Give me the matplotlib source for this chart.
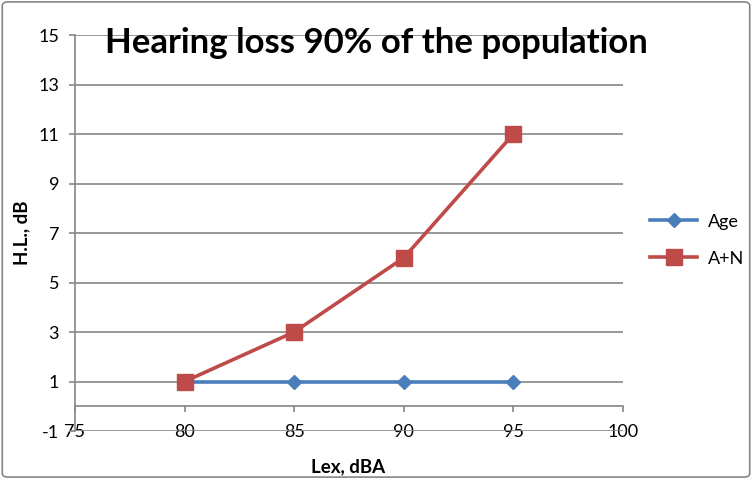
import matplotlib.pyplot as plt
from matplotlib.patches import FancyBboxPatch

# data
lex = [80, 85, 90, 95]
age = [1, 1, 1, 1]
a_n = [1, 3, 6, 11]
x_ticks = [75, 80, 85, 90, 95, 100]
y_ticks = [-1, 1, 3, 5, 7, 9, 11, 13, 15]

plt.rcParams['font.family'] = ['Lato', 'DejaVu Sans']
plt.rcParams['axes.unicode_minus'] = False

fig = plt.figure(figsize=(7.52, 4.79), dpi=100)
ax = fig.add_axes([0.0997, 0.1002, 0.7288, 0.8267])

grey = '#868686'

ax.plot(lex, age, color='#4A7EBB', lw=2.6, marker='D', markersize=7,
        label='Age', zorder=3)
ax.plot(lex, a_n, color='#BE4B48', lw=2.6, marker='s', markersize=11,
        label='A+N', zorder=4)

ax.set_xlim(75, 100)
ax.set_ylim(-1, 15)
ax.set_xticks(x_ticks)
ax.set_yticks(y_ticks)
ax.grid(axis='y', color=grey, lw=1.2)
ax.set_axisbelow(True)

for s in ['top', 'right']:
    ax.spines[s].set_visible(False)
ax.spines['bottom'].set_position(('data', 0))
ax.spines['bottom'].set_color(grey)
ax.spines['bottom'].set_linewidth(1.2)
ax.spines['left'].set_color(grey)
ax.spines['left'].set_linewidth(1.2)
ax.tick_params(axis='both', colors=grey, labelcolor='black', labelsize=13,
               length=4.5, width=1.2, direction='out')
ax.tick_params(axis='y', pad=7)
ax.tick_params(axis='x', pad=8)

ax.set_ylabel('H.L., dB', fontsize=13.5, fontweight='bold')
ax.yaxis.set_label_coords(-0.082, 0.5)
fig.text(348 / 752, 1 - 467 / 479, 'Lex, dBA', fontsize=13.5, fontweight='bold',
         ha='center', va='center')

fig.text(376 / 752, 1 - 43 / 479, 'Hearing loss 90% of the population',
         fontsize=25, fontweight='bold', ha='center', va='center')

ax.legend(loc='center left', bbox_to_anchor=(1.02, 0.482), frameon=False,
          fontsize=13, handlelength=2.6, labelspacing=1.15, handletextpad=0.6)

fig.patches.append(FancyBboxPatch((0.003, 0.004), 0.994, 0.992,
                                  boxstyle='round,pad=0,rounding_size=0.008',
                                  transform=fig.transFigure, fill=False,
                                  edgecolor=grey, lw=1.2))

fig.savefig('out.png', dpi=100)
